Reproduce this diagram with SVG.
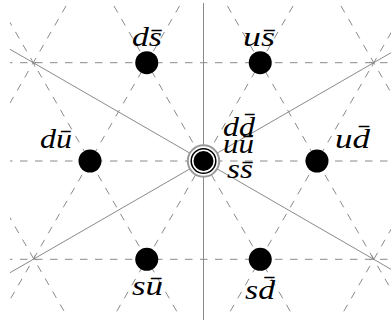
<svg xmlns="http://www.w3.org/2000/svg" width="391" height="325" viewBox="0 0 391 325">
<style>
.grid{stroke:#8a8a8a;stroke-width:1;stroke-dasharray:7.5 7.5;fill:none}
.axis{stroke:#8a8a8a;stroke-width:1;fill:none}
.lbl{font-family:"Liberation Serif",serif;font-style:italic;font-size:28px;fill:#000;text-anchor:middle}
</style>
<defs>
<clipPath id="clip"><rect x="10" y="4" width="387" height="313"/></clipPath>
<marker id="tip" markerUnits="userSpaceOnUse" markerWidth="10" markerHeight="10" refX="0" refY="0" viewBox="-5 -5 10 10" orient="auto">
<path d="M-3.5,-2.5 Q-1,-0.5 0,0 Q-1,0.5 -3.5,2.5" stroke="#8a8a8a" stroke-width="0.8" fill="none"/>
</marker>
</defs>
<g id="connectors">
<g clip-path="url(#clip)">
<line class="grid" x1="5" y1="62.7" x2="400" y2="62.7"/>
<line class="grid" x1="5" y1="161" x2="400" y2="161"/>
<line class="grid" x1="5" y1="259.3" x2="400" y2="259.3"/>
<line class="grid" x1="81" y1="-20" x2="-126.8" y2="340"/>
<line class="grid" x1="194.5" y1="-20" x2="-13.3" y2="340"/>
<line class="grid" x1="308" y1="-20" x2="100.2" y2="340"/>
<line class="grid" x1="421.5" y1="-20" x2="213.7" y2="340"/>
<line class="grid" x1="535" y1="-20" x2="327.2" y2="340"/>
<line class="grid" x1="-128" y1="-20" x2="80.8" y2="340"/>
<line class="grid" x1="-14.5" y1="-20" x2="193.3" y2="340"/>
<line class="grid" x1="99" y1="-20" x2="306.8" y2="340"/>
<line class="grid" x1="212.5" y1="-20" x2="420.3" y2="340"/>
<line class="grid" x1="326" y1="-20" x2="533.8" y2="340"/>
</g>
<line class="axis" x1="203.5" y1="3" x2="203.5" y2="320"/>
<path class="axis" marker-mid="url(#tip)" d="M203.5,161 L33.25,62.7 L10,49.3"/>
<path class="axis" marker-mid="url(#tip)" d="M203.5,161 L373.75,62.7 L391,52.7"/>
<path class="axis" marker-mid="url(#tip)" d="M203.5,161 L33.25,259.3 L10,272.7"/>
<path class="axis" marker-mid="url(#tip)" d="M203.5,161 L373.75,259.3 L391,269.3"/>
</g>
<g id="n-ds"><circle cx="146.75" cy="62.7" r="11.5"/><text class="lbl" x="147" y="46" textLength="30" lengthAdjust="spacingAndGlyphs">ds̄</text></g>
<g id="n-us"><circle cx="260.25" cy="62.7" r="11.5"/><text class="lbl" x="259" y="46" textLength="32" lengthAdjust="spacingAndGlyphs">us̄</text></g>
<g id="n-du"><circle cx="90" cy="161" r="11.5"/><text class="lbl" x="56" y="148" textLength="32" lengthAdjust="spacingAndGlyphs">dū</text></g>
<g id="n-ud"><circle cx="317" cy="161" r="11.5"/><text class="lbl" x="352.5" y="148" textLength="35" lengthAdjust="spacingAndGlyphs">ud̄</text></g>
<g id="n-su"><circle cx="146.75" cy="259.3" r="11.5"/><text class="lbl" x="147.5" y="295" textLength="31" lengthAdjust="spacingAndGlyphs">sū</text></g>
<g id="n-sd"><circle cx="260.25" cy="259.3" r="11.5"/><text class="lbl" x="260" y="299" textLength="30" lengthAdjust="spacingAndGlyphs">sd̄</text></g>
<g id="n-center">
<circle cx="203.5" cy="161" r="15.7" fill="#fff" stroke="#999" stroke-width="2"/>
<circle cx="203.5" cy="161" r="12.3" fill="#fff" stroke="#000" stroke-width="1.5"/>
<circle cx="203.5" cy="161" r="10"/>
<text class="lbl" x="239" y="136" textLength="32" lengthAdjust="spacingAndGlyphs">dd̄</text>
<text class="lbl" x="238.5" y="153" textLength="31" lengthAdjust="spacingAndGlyphs">uū</text>
<text class="lbl" x="240" y="178" textLength="26" lengthAdjust="spacingAndGlyphs">ss̄</text>
</g>
</svg>
